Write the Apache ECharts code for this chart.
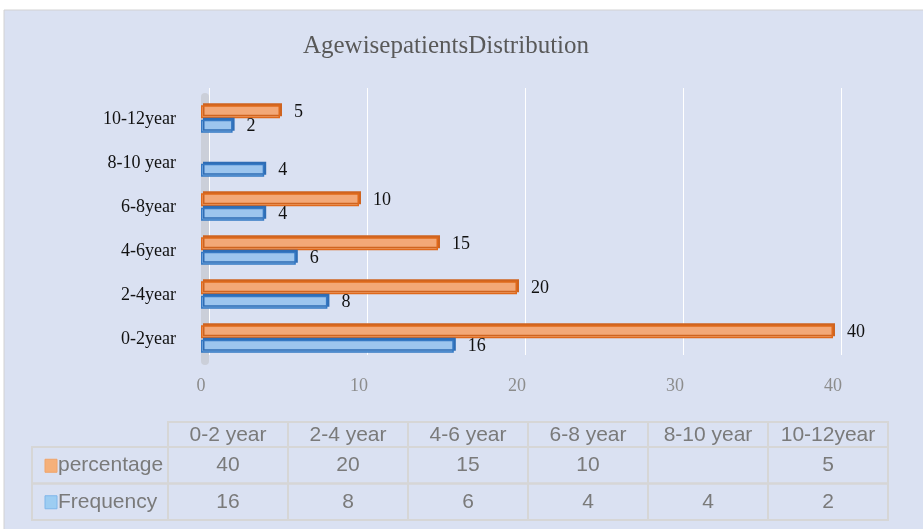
<!DOCTYPE html>
<html><head><meta charset="utf-8">
<script src="https://cdn.jsdelivr.net/npm/echarts@6/dist/echarts.min.js"></script>
<style>html,body{margin:0;padding:0;background:#fff}#c{width:923px;height:529px}</style>
</head><body><div id="c"></div>
<script>
const chartTitle = 'AgewisepatientsDistribution';
const axisCategories = ['0-2year','2-4year','4-6year','6-8year','8-10 year','10-12year'];
const tableCategories = ['0-2 year','2-4 year','4-6 year','6-8 year','8-10 year','10-12year'];
const seriesNames = ['percentage','Frequency'];
const percentage = [40,20,15,10,null,5];
const frequency = [16,8,6,4,4,2];
const xMin = 0, xMax = 40, xStep = 10;

const SERIF = "'Liberation Serif','Times New Roman',serif";
const NARROW = "'Liberation Sans Narrow','Arial Narrow','Liberation Sans',sans-serif";
const ORANGE_FILL = '#f3a877', ORANGE_EDGE = '#e0691b', ORANGE_DEEP = '#cf6420';
const BLUE_FILL = '#9cc5ee', BLUE_EDGE = '#3579c4', BLUE_DEEP = '#2f6db5';
const HEADER_H = 25, LABEL_W = 136;

const chart = echarts.init(document.getElementById('c'), null, {renderer:'canvas'});

const rowValues = {percentage: percentage, Frequency: frequency};
const cellData = [], cellText = [];
tableCategories.forEach((cat, c) => { cellData.push([c, 'percentage', 1]); cellText.push(cat); });
seriesNames.forEach(name => {
  cellData.push([0, name, 2]); cellText.push(name);
  rowValues[name].forEach((v, c) => { cellData.push([c, name, 0]); cellText.push(v == null ? '' : String(v)); });
});

function renderCell(params, api) {
  const c = api.value(0), kind = api.value(2);
  const rowName = cellData[params.dataIndex][1];
  const pt = api.coord([c, rowName]);
  const sz = api.size([1, 1]);
  const w = sz[0], h = sz[1];
  const text = cellText[params.dataIndex];
  const border = {stroke:'#d6d6d6', lineWidth:2, fill:'none'};
  const txtStyle = {fill:'#7a7a7a', fontSize:21, fontFamily:NARROW};
  if (kind === 1) {
    const y = pt[1] - h/2 - HEADER_H;
    return {type:'group', children:[
      {type:'rect', shape:{x:pt[0]-w/2, y:y, width:w, height:HEADER_H}, style:border},
      {type:'text', style:Object.assign({text:text, x:pt[0], y:y+HEADER_H/2+1, align:'center', verticalAlign:'middle'}, txtStyle)}
    ]};
  }
  if (kind === 2) {
    const x0 = pt[0] - w/2 - LABEL_W;
    const isPct = rowName === 'percentage';
    return {type:'group', children:[
      {type:'rect', shape:{x:x0, y:pt[1]-h/2, width:LABEL_W, height:h}, style:border},
      {type:'rect', shape:{x:x0+13, y:pt[1]-6, width:12, height:13},
        style:{fill:isPct?'#f5b07a':'#9dcdf2', stroke:isPct?'#f0a46a':'#7fb6ea', lineWidth:1}},
      {type:'text', style:Object.assign({text:text, x:x0+26, y:pt[1], align:'left', verticalAlign:'middle'}, txtStyle)}
    ]};
  }
  return {type:'group', children:[
    {type:'rect', shape:{x:pt[0]-w/2, y:pt[1]-h/2, width:w, height:h}, style:border},
    {type:'text', style:Object.assign({text:text, x:pt[0], y:pt[1], align:'center', verticalAlign:'middle'}, txtStyle)}
  ]};
}

const labelStyle = {show:true, position:'right', distance:14, color:'#111', fontFamily:SERIF, fontSize:18};

const option = {
  backgroundColor:'#ffffff',
  animation:false,
  graphic:[{type:'rect', z:-10, shape:{x:4, y:10, width:930, height:530},
    style:{fill:'#dae1f2', stroke:'#d2d2d2', lineWidth:1}}],
  title:{text:chartTitle, left:446, top:34, textAlign:'center', padding:0,
    textStyle:{fontFamily:SERIF, fontSize:25, fontWeight:'normal', color:'#595959'}},
  grid:[
    {left:201, width:632, top:97, height:264},
    {left:209, width:632, top:88, height:267},
    {left:168, right:35, top:447, height:73}
  ],
  xAxis:[
    {gridIndex:0, type:'value', min:xMin, max:xMax, interval:xStep,
      axisLine:{show:false}, axisTick:{show:false}, splitLine:{show:false},
      axisLabel:{color:'#8c8c8c', fontFamily:SERIF, fontSize:18, margin:16}},
    {gridIndex:1, type:'value', min:xMin, max:xMax, interval:xStep,
      axisLine:{show:false}, axisTick:{show:false}, axisLabel:{show:false},
      splitLine:{show:true, lineStyle:{color:'#ffffff', width:1}}},
    {gridIndex:2, type:'category', data:tableCategories, show:false}
  ],
  yAxis:[
    {gridIndex:0, type:'category', data:axisCategories, offset:-4,
      axisLine:{show:true, lineStyle:{color:'#cbcfd9', width:8}},
      axisTick:{show:false},
      axisLabel:{color:'#111', fontFamily:SERIF, fontSize:18, margin:29}},
    {gridIndex:1, type:'category', data:axisCategories, show:false},
    {gridIndex:2, type:'category', data:['Frequency','percentage'], show:false}
  ],
  series:[
    {name:seriesNames[0], type:'bar', xAxisIndex:0, yAxisIndex:0, data:percentage,
      barWidth:13, barGap:'10%',
      itemStyle:{color:ORANGE_FILL, borderColor:ORANGE_EDGE, borderWidth:1.5,
        shadowColor:ORANGE_DEEP, shadowOffsetX:2, shadowOffsetY:-2, shadowBlur:0},
      label:labelStyle},
    {name:seriesNames[1], type:'bar', xAxisIndex:0, yAxisIndex:0, data:frequency,
      barWidth:13, barGap:'10%',
      itemStyle:{color:BLUE_FILL, borderColor:BLUE_EDGE, borderWidth:1.5,
        shadowColor:BLUE_DEEP, shadowOffsetX:2, shadowOffsetY:-2, shadowBlur:0},
      label:labelStyle},
    {type:'custom', xAxisIndex:2, yAxisIndex:2, data:cellData, renderItem:renderCell, silent:true}
  ]
};
chart.setOption(option);
</script></body></html>
